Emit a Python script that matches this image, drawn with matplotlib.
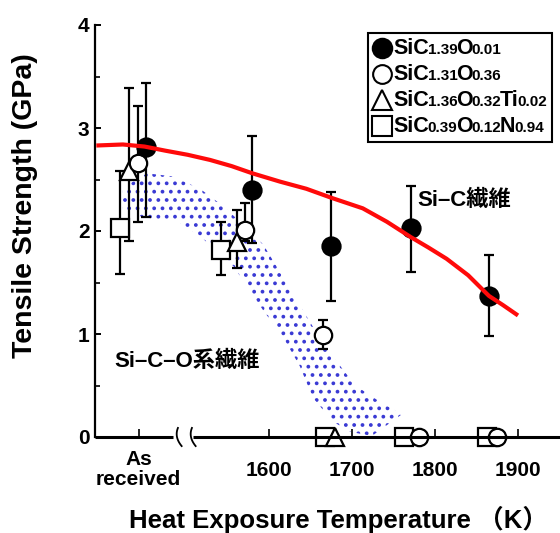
import matplotlib
matplotlib.use("Agg")
import matplotlib.pyplot as plt
import numpy as np
from matplotlib.lines import Line2D
from matplotlib.offsetbox import TextArea, HPacker, VPacker, DrawingArea, AnchoredOffsetbox
import matplotlib.transforms as mtransforms

plt.rcParams['hatch.linewidth'] = 1.5
LATIN = 'Liberation Sans'
FAM = ['Liberation Sans', 'Noto Sans CJK JP']

# ---------------- data ----------------
AS_RECEIVED_X = 1443          # nominal axis position of the "As received" group
x_ticks = [AS_RECEIVED_X, 1600, 1700, 1800, 1900]
x_tick_labels = ['', '1600', '1700', '1800', '1900']
as_received_label = 'As\nreceived'

# SiC1.39O0.01 (filled circles)
sic_a_x = [1452, 1579, 1675, 1771, 1865]
sic_a_y = [2.82, 2.40, 1.85, 2.03, 1.37]
sic_a_hi = [3.44, 2.92, 2.38, 2.44, 1.77]
sic_a_lo = [2.14, 1.88, 1.32, 1.60, 0.98]

# SiC1.31O0.36 (open circles)
sic_b_x = [1442, 1571, 1665]
sic_b_y = [2.66, 2.01, 0.99]
sic_b_hi = [3.21, 2.27, 1.14]
sic_b_lo = [2.09, 1.90, 0.85]
sic_b_zero_x = [1781, 1875]

# SiC1.36O0.32Ti0.02 (triangles)
sic_c_x = [1431, 1561]
sic_c_y = [2.58, 1.89]
sic_c_hi = [3.39, 2.20]
sic_c_lo = [1.90, 1.64]
sic_c_zero_x = [1680]

# SiC0.39O0.12N0.94 (squares)
sic_d_x = [1421, 1542]
sic_d_y = [2.03, 1.82]
sic_d_hi = [2.58, 2.09]
sic_d_lo = [1.58, 1.57]
sic_d_zero_x = [1667, 1763, 1863]

# red trend curve for Si-C fibres
curve_x = [1392, 1424, 1450, 1475, 1502, 1529, 1555, 1580, 1613, 1645, 1676, 1713, 1742, 1771, 1792, 1814, 1840, 1865, 1882, 1900]
curve_y = [2.83, 2.84, 2.82, 2.78, 2.74, 2.69, 2.63, 2.56, 2.48, 2.41, 2.32, 2.22, 2.09, 1.94, 1.84, 1.73, 1.57, 1.37, 1.28, 1.18]

# dotted band for Si-C-O fibres
band_up_x = [1424, 1453, 1484, 1517, 1545, 1573, 1593, 1617, 1637, 1659, 1680, 1704, 1734, 1760]
band_up_y = [2.42, 2.56, 2.53, 2.41, 2.24, 2.03, 1.87, 1.55, 1.28, 0.99, 0.75, 0.50, 0.34, 0.22]
band_lo_x = [1424, 1441, 1465, 1489, 1517, 1557, 1573, 1593, 1617, 1637, 1653, 1677, 1698, 1724]
band_lo_y = [2.22, 2.15, 2.11, 2.10, 1.95, 1.66, 1.47, 1.23, 0.97, 0.69, 0.38, 0.15, 0.05, 0.01]

legend_parts = [
    [('SiC', False), ('1.39', True), ('O', False), ('0.01', True)],
    [('SiC', False), ('1.31', True), ('O', False), ('0.36', True)],
    [('SiC', False), ('1.36', True), ('O', False), ('0.32', True), ('Ti', False), ('0.02', True)],
    [('SiC', False), ('0.39', True), ('O', False), ('0.12', True), ('N', False), ('0.94', True)],
]

# ---------------- figure ----------------
fig = plt.figure(figsize=(5.6, 5.33), dpi=100)
ax = fig.add_axes([95/560, 1-437/533, 1-95/560, (437-25)/533])
ax.set_xlim(1390.4, 1950.6)
ax.set_ylim(0, 4)

# band
bx = band_up_x + band_lo_x[::-1]
by = band_up_y + band_lo_y[::-1]
ax.fill(bx, by, facecolor='none', edgecolor='#3a3ad4', linewidth=0, hatch='..', zorder=1)

ekw = dict(fmt='none', ecolor='black', elinewidth=1.6, capsize=3.4, capthick=1.6, zorder=2)
mk = dict(linestyle='none', markeredgecolor='black', markeredgewidth=1.6, zorder=3, clip_on=False)

def err(y, lo, hi):
    y = np.array(y); return [y - np.array(lo), np.array(hi) - y]

ax.errorbar(sic_d_x, sic_d_y, yerr=err(sic_d_y, sic_d_lo, sic_d_hi), **ekw)
ax.errorbar(sic_c_x, sic_c_y, yerr=err(sic_c_y, sic_c_lo, sic_c_hi), **ekw)
ax.errorbar(sic_b_x, sic_b_y, yerr=err(sic_b_y, sic_b_lo, sic_b_hi), **ekw)
ax.errorbar(sic_a_x, sic_a_y, yerr=err(sic_a_y, sic_a_lo, sic_a_hi), **ekw)

ax.plot(sic_d_x + sic_d_zero_x, sic_d_y + [0]*len(sic_d_zero_x), marker='s', ms=13.5, markerfacecolor='white', **mk)
ax.plot(sic_c_x + sic_c_zero_x, sic_c_y + [0]*len(sic_c_zero_x), marker='^', ms=13, markerfacecolor='white', **mk)
ax.plot(sic_b_x + sic_b_zero_x, sic_b_y + [0]*len(sic_b_zero_x), marker='o', ms=12.5, markerfacecolor='white', **mk)
ax.plot(sic_a_x, sic_a_y, marker='o', ms=13, markerfacecolor='black', **mk)

ax.plot(curve_x, curve_y, color='#ff0a0a', lw=3.0, zorder=4, solid_capstyle='butt', solid_joinstyle='round')

# axes styling
for s in ['top', 'right', 'bottom']:
    ax.spines[s].set_visible(False)
ax.spines['left'].set_linewidth(1.6)
ax.set_yticks([0, 1, 2, 3, 4])
ax.set_yticks([0.5, 1.5, 2.5, 3.5], minor=True)
ax.tick_params(axis='y', which='major', direction='in', length=4, width=1.4, pad=4, labelsize=15)
ax.tick_params(axis='y', which='minor', direction='in', length=3.5, width=1.2)
ax.set_xticks(x_ticks)
ax.set_xticklabels(x_tick_labels)
ax.tick_params(axis='x', which='major', direction='in', length=6, width=1.2, pad=17, labelsize=15)
for lab in ax.get_xticklabels() + ax.get_yticklabels():
    lab.set_fontweight('bold'); lab.set_family(LATIN)

# broken bottom axis line
tr = ax.transAxes
brk1, brk2 = (173-95)/465, (193-95)/465
ax.plot([0, brk1], [0, 0], color='black', lw=2.2, transform=tr, clip_on=False, zorder=5, solid_capstyle='butt')
ax.plot([brk2, 1], [0, 0], color='black', lw=2.2, transform=tr, clip_on=False, zorder=5, solid_capstyle='butt')
t = np.linspace(-1, 1, 20)
for xc in [(177-95)/465, (191-95)/465]:
    ax.plot(xc + 0.006*t**2 - 0.004*t, 0.022*t, color='black', lw=1.3, transform=tr, clip_on=False, zorder=5)

# "As received" label
ax.text(AS_RECEIVED_X, -13/412, as_received_label, transform=mtransforms.blended_transform_factory(ax.transData, ax.transAxes),
        ha='center', va='top', fontsize=15, fontweight='bold', family=LATIN, linespacing=1.05)

# annotations
ax.text(1779, 2.30, 'Si–C繊維', fontsize=16, fontweight='bold', family=FAM, ha='left', va='center')
ax.text(1414, 0.73, 'Si–C–O系繊維', fontsize=16, fontweight='bold', family=FAM, ha='left', va='center')

# axis labels
fig.text(25/560, 1-206/533, 'Tensile Strength (GPa)', rotation=90, ha='center', va='center',
         fontsize=20.5, fontweight='bold', family=LATIN)
fig.text(339/560, 1-519/533, 'Heat Exposure Temperature （K）', ha='center', va='center',
         fontsize=18.5, fontweight='bold', family=FAM)

# legend
marker_styles = [dict(marker='o', ms=14, markerfacecolor='black'),
                 dict(marker='o', ms=13.5, markerfacecolor='white'),
                 dict(marker='^', ms=14, markerfacecolor='white'),
                 dict(marker='s', ms=14, markerfacecolor='white')]
rows = []
for ms, parts in zip(marker_styles, legend_parts):
    da = DrawingArea(14, 14, 0, 0)
    da.add_artist(Line2D([7], [7], linestyle='none', markeredgecolor='black', markeredgewidth=1.5, **ms))
    pieces = [TextArea(txt, textprops=dict(fontsize=(11 if small else 15.5), fontweight='bold', family=LATIN))
              for txt, small in parts]
    txt = HPacker(children=pieces, align='baseline', pad=0, sep=-0.9)
    rows.append(HPacker(children=[da, txt], align='center', pad=0, sep=0.8))
box = VPacker(children=rows, align='left', pad=0, sep=3.6)
anch = AnchoredOffsetbox(loc='upper right', child=box, pad=0.35, borderpad=0, frameon=True,
                         bbox_to_anchor=((552-95)/465, (437-33)/412), bbox_transform=ax.transAxes)
anch.patch.set_linewidth(1.5)
anch.patch.set_edgecolor('black')
anch.patch.set_boxstyle('square', pad=0)
anch.set_zorder(6)
ax.add_artist(anch)

fig.savefig('out.png', dpi=100)
